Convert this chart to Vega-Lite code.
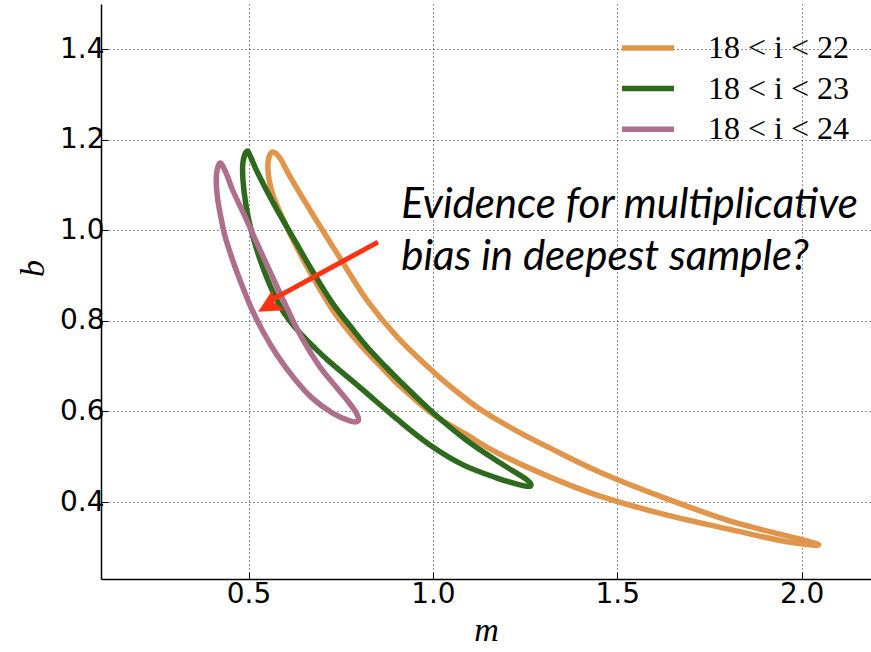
{
  "$schema": "https://vega.github.io/schema/vega-lite/v6.json",
  "width": 770,
  "height": 575,
  "autosize": {"type": "none"},
  "padding": {"left": 101, "top": 4, "right": 0, "bottom": 73},
  "background": "white",
  "config": {
    "view": {"stroke": null},
    "axis": {
      "labelFont": "DejaVu Sans", "labelFontSize": 28, "labelColor": "black",
      "labelFlush": false, "tickSize": -7, "tickColor": "black", "tickWidth": 1,
      "domainColor": "black", "domainWidth": 1.5,
      "grid": true, "gridColor": "black", "gridDash": [1, 3], "gridOpacity": 0.85, "gridWidth": 1,
      "titleFont": "Liberation Serif", "titleFontStyle": "italic", "titleFontWeight": "normal",
      "titleFontSize": 34, "titleColor": "black", "zindex": 1
    }
  },
  "datasets": {
    "contours": [
      {"s": "18 < i < 22", "i": 1, "m": 0.564, "b": 1.173},
      {"s": "18 < i < 22", "i": 2, "m": 0.553, "b": 1.151},
      {"s": "18 < i < 22", "i": 3, "m": 0.556, "b": 1.111},
      {"s": "18 < i < 22", "i": 4, "m": 0.569, "b": 1.072},
      {"s": "18 < i < 22", "i": 5, "m": 0.604, "b": 1.007},
      {"s": "18 < i < 22", "i": 6, "m": 0.659, "b": 0.919},
      {"s": "18 < i < 22", "i": 7, "m": 0.721, "b": 0.833},
      {"s": "18 < i < 22", "i": 8, "m": 0.762, "b": 0.787},
      {"s": "18 < i < 22", "i": 9, "m": 0.811, "b": 0.740},
      {"s": "18 < i < 22", "i": 10, "m": 0.857, "b": 0.701},
      {"s": "18 < i < 22", "i": 11, "m": 0.911, "b": 0.656},
      {"s": "18 < i < 22", "i": 12, "m": 0.998, "b": 0.595},
      {"s": "18 < i < 22", "i": 13, "m": 1.087, "b": 0.551},
      {"s": "18 < i < 22", "i": 14, "m": 1.174, "b": 0.509},
      {"s": "18 < i < 22", "i": 15, "m": 1.318, "b": 0.455},
      {"s": "18 < i < 22", "i": 16, "m": 1.453, "b": 0.413},
      {"s": "18 < i < 22", "i": 17, "m": 1.635, "b": 0.371},
      {"s": "18 < i < 22", "i": 18, "m": 1.814, "b": 0.338},
      {"s": "18 < i < 22", "i": 19, "m": 1.961, "b": 0.312},
      {"s": "18 < i < 22", "i": 20, "m": 2.045, "b": 0.305},
      {"s": "18 < i < 22", "i": 21, "m": 1.996, "b": 0.318},
      {"s": "18 < i < 22", "i": 22, "m": 1.814, "b": 0.356},
      {"s": "18 < i < 22", "i": 23, "m": 1.635, "b": 0.407},
      {"s": "18 < i < 22", "i": 24, "m": 1.453, "b": 0.466},
      {"s": "18 < i < 22", "i": 25, "m": 1.318, "b": 0.519},
      {"s": "18 < i < 22", "i": 26, "m": 1.223, "b": 0.559},
      {"s": "18 < i < 22", "i": 27, "m": 1.128, "b": 0.605},
      {"s": "18 < i < 22", "i": 28, "m": 1.060, "b": 0.647},
      {"s": "18 < i < 22", "i": 29, "m": 0.998, "b": 0.690},
      {"s": "18 < i < 22", "i": 30, "m": 0.903, "b": 0.765},
      {"s": "18 < i < 22", "i": 31, "m": 0.821, "b": 0.846},
      {"s": "18 < i < 22", "i": 32, "m": 0.748, "b": 0.939},
      {"s": "18 < i < 22", "i": 33, "m": 0.675, "b": 1.034},
      {"s": "18 < i < 22", "i": 34, "m": 0.613, "b": 1.118},
      {"s": "18 < i < 22", "i": 35, "m": 0.585, "b": 1.160},
      {"s": "18 < i < 23", "i": 1, "m": 0.496, "b": 1.175},
      {"s": "18 < i < 23", "i": 2, "m": 0.485, "b": 1.151},
      {"s": "18 < i < 23", "i": 3, "m": 0.485, "b": 1.111},
      {"s": "18 < i < 23", "i": 4, "m": 0.493, "b": 1.056},
      {"s": "18 < i < 23", "i": 5, "m": 0.507, "b": 1.001},
      {"s": "18 < i < 23", "i": 6, "m": 0.529, "b": 0.941},
      {"s": "18 < i < 23", "i": 7, "m": 0.558, "b": 0.879},
      {"s": "18 < i < 23", "i": 8, "m": 0.588, "b": 0.829},
      {"s": "18 < i < 23", "i": 9, "m": 0.612, "b": 0.800},
      {"s": "18 < i < 23", "i": 10, "m": 0.640, "b": 0.773},
      {"s": "18 < i < 23", "i": 11, "m": 0.680, "b": 0.740},
      {"s": "18 < i < 23", "i": 12, "m": 0.721, "b": 0.709},
      {"s": "18 < i < 23", "i": 13, "m": 0.811, "b": 0.647},
      {"s": "18 < i < 23", "i": 14, "m": 0.903, "b": 0.583},
      {"s": "18 < i < 23", "i": 15, "m": 0.992, "b": 0.526},
      {"s": "18 < i < 23", "i": 16, "m": 1.082, "b": 0.482},
      {"s": "18 < i < 23", "i": 17, "m": 1.174, "b": 0.453},
      {"s": "18 < i < 23", "i": 18, "m": 1.236, "b": 0.438},
      {"s": "18 < i < 23", "i": 19, "m": 1.264, "b": 0.435},
      {"s": "18 < i < 23", "i": 20, "m": 1.255, "b": 0.449},
      {"s": "18 < i < 23", "i": 21, "m": 1.185, "b": 0.485},
      {"s": "18 < i < 23", "i": 22, "m": 1.092, "b": 0.536},
      {"s": "18 < i < 23", "i": 23, "m": 1.002, "b": 0.596},
      {"s": "18 < i < 23", "i": 24, "m": 0.913, "b": 0.665},
      {"s": "18 < i < 23", "i": 25, "m": 0.867, "b": 0.703},
      {"s": "18 < i < 23", "i": 26, "m": 0.821, "b": 0.743},
      {"s": "18 < i < 23", "i": 27, "m": 0.786, "b": 0.778},
      {"s": "18 < i < 23", "i": 28, "m": 0.727, "b": 0.840},
      {"s": "18 < i < 23", "i": 29, "m": 0.672, "b": 0.912},
      {"s": "18 < i < 23", "i": 30, "m": 0.618, "b": 0.988},
      {"s": "18 < i < 23", "i": 31, "m": 0.569, "b": 1.058},
      {"s": "18 < i < 23", "i": 32, "m": 0.526, "b": 1.125},
      {"s": "18 < i < 23", "i": 33, "m": 0.507, "b": 1.160},
      {"s": "18 < i < 24", "i": 1, "m": 0.423, "b": 1.149},
      {"s": "18 < i < 24", "i": 2, "m": 0.413, "b": 1.122},
      {"s": "18 < i < 24", "i": 3, "m": 0.415, "b": 1.078},
      {"s": "18 < i < 24", "i": 4, "m": 0.423, "b": 1.038},
      {"s": "18 < i < 24", "i": 5, "m": 0.436, "b": 0.988},
      {"s": "18 < i < 24", "i": 6, "m": 0.455, "b": 0.939},
      {"s": "18 < i < 24", "i": 7, "m": 0.477, "b": 0.890},
      {"s": "18 < i < 24", "i": 8, "m": 0.504, "b": 0.835},
      {"s": "18 < i < 24", "i": 9, "m": 0.537, "b": 0.780},
      {"s": "18 < i < 24", "i": 10, "m": 0.577, "b": 0.725},
      {"s": "18 < i < 24", "i": 11, "m": 0.623, "b": 0.674},
      {"s": "18 < i < 24", "i": 12, "m": 0.672, "b": 0.630},
      {"s": "18 < i < 24", "i": 13, "m": 0.727, "b": 0.597},
      {"s": "18 < i < 24", "i": 14, "m": 0.775, "b": 0.579},
      {"s": "18 < i < 24", "i": 15, "m": 0.797, "b": 0.579},
      {"s": "18 < i < 24", "i": 16, "m": 0.794, "b": 0.594},
      {"s": "18 < i < 24", "i": 17, "m": 0.775, "b": 0.617},
      {"s": "18 < i < 24", "i": 18, "m": 0.740, "b": 0.652},
      {"s": "18 < i < 24", "i": 19, "m": 0.694, "b": 0.698},
      {"s": "18 < i < 24", "i": 20, "m": 0.645, "b": 0.762},
      {"s": "18 < i < 24", "i": 21, "m": 0.604, "b": 0.829},
      {"s": "18 < i < 24", "i": 22, "m": 0.564, "b": 0.899},
      {"s": "18 < i < 24", "i": 23, "m": 0.526, "b": 0.966},
      {"s": "18 < i < 24", "i": 24, "m": 0.491, "b": 1.030},
      {"s": "18 < i < 24", "i": 25, "m": 0.458, "b": 1.087},
      {"s": "18 < i < 24", "i": 26, "m": 0.439, "b": 1.127}
    ]
  },
  "layer": [
    {
      "data": {"name": "contours"},
      "mark": {"type": "line", "interpolate": "cardinal-closed", "strokeWidth": 5.5, "strokeJoin": "round", "strokeCap": "round"},
      "encoding": {
        "x": {
          "field": "m", "type": "quantitative", "title": "m",
          "scale": {"domain": [0.1, 2.188], "nice": false, "zero": false},
          "axis": {
            "values": [0.5, 1.0, 1.5, 2.0], "format": ".1f", "title": "m",
            "titleY": 61, "titleBaseline": "alphabetic", "labelPadding": 8
          }
        },
        "y": {
          "field": "b", "type": "quantitative", "title": "b",
          "scale": {"domain": [0.23, 1.5], "nice": false, "zero": false},
          "axis": {
            "values": [0.4, 0.6, 0.8, 1.0, 1.2, 1.4], "format": ".1f", "title": "b",
            "titleX": -58, "titleY": 264, "titleAngle": 270, "titleAlign": "center",
            "titleBaseline": "alphabetic", "labelPadding": 4
          }
        },
        "color": {
          "field": "s", "type": "nominal",
          "scale": {"domain": ["18 < i < 22", "18 < i < 23", "18 < i < 24"], "range": ["#e0954a", "#2e6a1e", "#ae6f8d"]},
          "legend": {
            "orient": "none", "legendX": 531, "legendY": 28, "title": null,
            "symbolType": "M-2.6,0L2.6,0", "symbolSize": 400, "symbolStrokeWidth": 5.5,
            "labelFont": "Liberation Serif", "labelFontSize": 32, "labelColor": "black",
            "labelOffset": 44, "rowPadding": 8.6, "padding": 0
          }
        },
        "order": {"field": "i", "type": "quantitative"}
      }
    },
    {
      "mark": {"type": "rule", "color": "black", "strokeWidth": 1.5},
      "encoding": {"y": {"datum": 1.5, "type": "quantitative"}}
    },
    {
      "data": {"values": [
        {"m": 0.914, "b": 1.027, "t": "Evidence for multiplicative"},
        {"m": 0.914, "b": 0.912, "t": "bias in deepest sample?"}
      ]},
      "mark": {"type": "text", "align": "left", "baseline": "alphabetic", "font": "Lato", "fontStyle": "italic", "fontSize": 42, "color": "black"},
      "encoding": {
        "x": {"field": "m", "type": "quantitative", "title": "m"},
        "y": {"field": "b", "type": "quantitative", "title": "b"},
        "text": {"field": "t"}
      }
    },
    {
      "data": {"values": [{"m": 0.851, "b": 0.974, "m2": 0.562, "b2": 0.846}]},
      "mark": {"type": "rule", "color": "#ff3311", "strokeWidth": 5},
      "encoding": {
        "x": {"field": "m", "type": "quantitative", "title": "m"},
        "y": {"field": "b", "type": "quantitative", "title": "b"},
        "x2": {"field": "m2"},
        "y2": {"field": "b2"}
      }
    },
    {
      "data": {"values": [{"m": 0.526, "b": 0.820}]},
      "mark": {"type": "point", "shape": "M0,0L-1,2L0,1.6L1,2Z", "filled": true, "opacity": 1, "size": 552, "angle": 239.7, "color": "#ff3311", "strokeWidth": 0},
      "encoding": {
        "x": {"field": "m", "type": "quantitative", "title": "m"},
        "y": {"field": "b", "type": "quantitative", "title": "b"}
      }
    }
  ]
}
